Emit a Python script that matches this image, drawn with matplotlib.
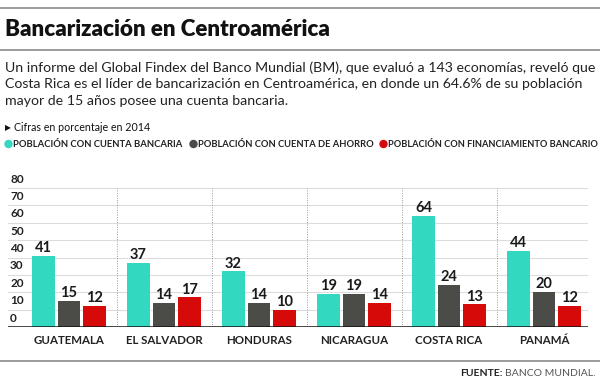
import matplotlib
matplotlib.use("Agg")
import matplotlib.pyplot as plt
import matplotlib.patches as mpatches
import numpy as np

countries = ["GUATEMALA", "EL SALVADOR", "HONDURAS", "NICARAGUA", "COSTA RICA", "PANAMÁ"]
cuenta_bancaria = [41, 37, 32, 19, 64, 44]
cuenta_ahorro = [15, 14, 14, 19, 24, 20]
financiamiento = [12, 17, 10, 14, 13, 12]
series_names = ["POBLACIÓN CON CUENTA BANCARIA", "POBLACIÓN CON CUENTA DE AHORRO",
                "POBLACIÓN CON FINANCIAMIENTO BANCARIO"]
yticks = [0, 10, 20, 30, 40, 50, 60, 70, 80]

colors = ["#33D8C1", "#4B4B48", "#D70A0A"]
FONT = "Lato"

W, H = 600, 380
fig = plt.figure(figsize=(W / 100, H / 100), dpi=100)
renderer = fig.canvas.get_renderer()

def ft(x, y, s, **kw):
    return fig.text(x / W, 1 - y / H, s, **kw)

def fit(t, width_px):
    w = t.get_window_extent(renderer=renderer).width
    t.set_fontsize(t.get_fontsize() * width_px / w)
    return t

def hline(y, x0, x1, color, lw):
    fig.add_artist(plt.Line2D([x0 / W, x1 / W], [1 - y / H, 1 - y / H], color=color, lw=lw,
                              transform=fig.transFigure))

hline(8, 0, 600, "#8a8a8a", 1.2)
hline(50, 0, 600, "#8a8a8a", 1.2)
hline(361, 0, 600, "#8a8a8a", 1.2)

t = ft(5, 30, "Bancarización en Centroamérica", fontsize=16, fontweight="heavy",
       family=FONT, va="center", ha="left", color="#111111")
fit(t, 325)

para = ["Un informe del Global Findex del Banco Mundial (BM), que evaluó a 143 economías, reveló que",
        "Costa Rica es el líder de bancarización en Centroamérica, en donde un 64.6% de su población",
        "mayor de 15 años posee una cuenta bancaria."]
t = ft(5, 68, para[0], fontsize=10, family=FONT, va="center", ha="left", color="#222222")
fit(t, 588)
fs_para = t.get_fontsize()
for i, line in enumerate(para[1:], start=1):
    ft(5, 68 + i * 16.5, line, fontsize=fs_para, family=FONT, va="center", ha="left", color="#222222")

ft(5, 128, "▶", fontsize=5.5, family="DejaVu Sans", va="center", ha="left", color="#111111")
t = ft(14, 128, "Cifras en porcentaje en 2014", fontsize=8, family=FONT, va="center", ha="left",
       color="#111111")
fit(t, 136)

# legend
leg = [(5, 170), (190, 175), (380, 210)]
for (x, w), c, name in zip(leg, colors, series_names):
    fig.add_artist(mpatches.Ellipse(((x + 3.5) / W, 1 - 144 / H), 7 / W, 7 / H, color=c,
                                    transform=fig.transFigure))
    t = ft(x + 8, 144, name, fontsize=7.6, family=FONT, fontweight="bold", va="center", ha="left",
           color="#222222")
    fit(t, w)

# axes
left_px, right_px = 8, 588
top_px, bot_px = 188, 327
ax = fig.add_axes([left_px / W, 1 - bot_px / H, (right_px - left_px) / W, (bot_px - top_px) / H])
step = 95.0
g0 = (69 - left_px) / step
ax.set_xlim(-g0, -g0 + (right_px - left_px) / step)
ax.set_ylim(0, 80)

x = np.arange(len(countries))
bw = 22.5 / step
off = 25.5 / step
for k, (vals, c) in enumerate(zip([cuenta_bancaria, cuenta_ahorro, financiamiento], colors)):
    xs = x + (k - 1) * off
    ax.bar(xs, vals, width=bw, color=c, zorder=3)
    for xi, v in zip(xs, vals):
        ax.text(xi, v + 0.5, str(v), ha="center", va="bottom", fontsize=10.5, fontweight="bold",
                family=FONT, color="#1a1a1a", zorder=4)

for tk in yticks[1:]:
    ax.axhline(tk, color="#dcdcdc", lw=0.8, zorder=1)
ax.axhline(0, color="#111111", lw=1.8, zorder=5)
for i in range(len(countries) - 1):
    ax.plot([i + 0.5, i + 0.5], [0, 80], color="#999999", lw=0.7, ls=(0, (1, 1.5)), zorder=2)

for tk in yticks:
    ax.annotate(str(tk), xy=(0, tk), xycoords=("axes fraction", "data"), xytext=(1.5, 2.5),
                textcoords="offset points", ha="left", va="bottom", fontsize=8.5, fontweight="bold",
                family=FONT, color="#222222")

for xi, name in zip(x, countries):
    ft(left_px + (xi + g0) * step, 340, name, fontsize=8.3, fontweight="bold", family=FONT,
       ha="center", va="center", color="#222222")

ax.set_xticks([])
ax.set_yticks([])
for s in ax.spines.values():
    s.set_visible(False)
ax.patch.set_alpha(0)

t1 = ft(596, 373, "BANCO MUNDIAL.", fontsize=7.5, family=FONT, ha="right", va="center",
        color="#555555")
bb = t1.get_window_extent(renderer=renderer)
fig.text((bb.x0 - 3) / W, 1 - 373 / H, "FUENTE:", fontsize=7.5, family=FONT, fontweight="bold",
         ha="right", va="center", color="#222222")

fig.savefig("out.png", dpi=100, facecolor="white")
